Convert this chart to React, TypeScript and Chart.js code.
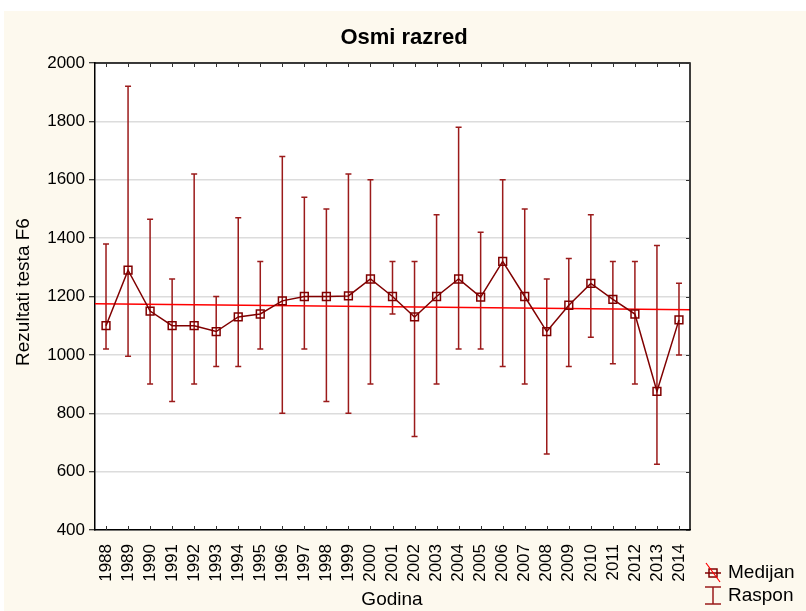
import React, { useEffect, useRef } from 'react';
import { Chart, registerables } from 'chart.js';

Chart.register(...registerables);

const years = [1988, 1989, 1990, 1991, 1992, 1993, 1994, 1995, 1996, 1997, 1998, 1999, 2000, 2001, 2002, 2003, 2004, 2005, 2006, 2007, 2008, 2009, 2010, 2011, 2012, 2013, 2014];
const median = [1100, 1290, 1150, 1100, 1100, 1080, 1130, 1140, 1185, 1200, 1200, 1202, 1260, 1200, 1130, 1200, 1260, 1198, 1320, 1200, 1080, 1170, 1245, 1190, 1140, 875, 1120];
const upper = [1380, 1920, 1465, 1260, 1620, 1200, 1470, 1320, 1680, 1540, 1500, 1620, 1600, 1320, 1320, 1480, 1780, 1420, 1600, 1500, 1260, 1330, 1480, 1320, 1320, 1375, 1245];
const lower = [1020, 995, 900, 840, 900, 960, 960, 1020, 800, 1020, 840, 800, 900, 1140, 720, 900, 1020, 1020, 960, 900, 660, 960, 1060, 970, 900, 625, 1000];
const trendX = [1987.5, 2014.5];
const trendY = [1175, 1155];
const yTicks = [400, 600, 800, 1000, 1200, 1400, 1600, 1800, 2000];

const FONT = '"Liberation Sans", Arial, sans-serif';
const DARK = '#8b0000';

const decorPlugin = {
  id: 'decor',
  beforeDraw(chart: any) {
    const { ctx, width, height, chartArea: a } = chart;
    ctx.save();
    ctx.fillStyle = '#ffffff';
    ctx.fillRect(0, 0, width, height);
    ctx.fillStyle = '#fdf9ee';
    ctx.fillRect(4, 11, width - 4, height - 11);
    ctx.fillStyle = '#ffffff';
    ctx.fillRect(a.left, a.top, a.right - a.left, a.bottom - a.top);
    ctx.restore();
  },
  beforeDatasetsDraw(chart: any) {
    const { ctx } = chart;
    const xs = chart.scales.x;
    const ys = chart.scales.y;
    ctx.save();
    ctx.strokeStyle = '#9b1b1b';
    ctx.lineWidth = 1.5;
    years.forEach((yr, i) => {
      const x = xs.getPixelForValue(yr);
      const yt = ys.getPixelForValue(upper[i]);
      const yb = ys.getPixelForValue(lower[i]);
      ctx.beginPath();
      ctx.moveTo(x, yt);
      ctx.lineTo(x, yb);
      ctx.moveTo(x - 3, yt);
      ctx.lineTo(x + 3, yt);
      ctx.moveTo(x - 3, yb);
      ctx.lineTo(x + 3, yb);
      ctx.stroke();
    });
    ctx.restore();
  },
  afterDraw(chart: any) {
    const { ctx, chartArea: a } = chart;
    const xs = chart.scales.x;
    const ys = chart.scales.y;
    ctx.save();
    // frame
    ctx.strokeStyle = '#000';
    ctx.lineWidth = 1.5;
    ctx.beginPath();
    ctx.moveTo(a.left, a.top);
    ctx.lineTo(a.right, a.top);
    ctx.lineTo(a.right, a.bottom);
    ctx.stroke();
    ctx.lineWidth = 1;
    ctx.strokeStyle = '#333';
    ctx.beginPath();
    years.forEach((yr) => {
      const x = Math.round(xs.getPixelForValue(yr)) + 0.5;
      ctx.moveTo(x, a.top);
      ctx.lineTo(x, a.top + 4);
      ctx.moveTo(x, a.bottom);
      ctx.lineTo(x, a.bottom - 4);
    });
    yTicks.forEach((v) => {
      const y = Math.round(ys.getPixelForValue(v)) + 0.5;
      ctx.moveTo(a.right, y);
      ctx.lineTo(a.right - 4, y);
    });
    ctx.stroke();

    // titles
    ctx.fillStyle = '#000';
    ctx.textAlign = 'center';
    ctx.textBaseline = 'middle';
    ctx.font = `bold 22px ${FONT}`;
    ctx.fillText('Osmi razred', 404, 38);
    ctx.font = `19px ${FONT}`;
    ctx.fillText('Godina', 392, 600);
    ctx.save();
    ctx.translate(24, 292);
    ctx.rotate(-Math.PI / 2);
    ctx.fillText('Rezultati testa F6', 0, 0);
    ctx.restore();

    // legend
    const lx = 713;
    const ly1 = 573;
    const ly2 = 596;
    ctx.strokeStyle = '#800000';
    ctx.lineWidth = 1.5;
    ctx.beginPath();
    ctx.moveTo(lx - 8, ly1);
    ctx.lineTo(lx + 8, ly1);
    ctx.stroke();
    ctx.strokeRect(lx - 4, ly1 - 4, 8, 8);
    ctx.strokeStyle = '#ff0000';
    ctx.lineWidth = 1.2;
    ctx.beginPath();
    ctx.moveTo(lx - 7, ly1 - 10);
    ctx.lineTo(lx + 7, ly1 + 9);
    ctx.stroke();
    ctx.strokeStyle = '#9b1b1b';
    ctx.lineWidth = 1.5;
    ctx.beginPath();
    ctx.moveTo(lx, ly2 - 9);
    ctx.lineTo(lx, ly2 + 8);
    ctx.moveTo(lx - 8, ly2 - 9);
    ctx.lineTo(lx + 8, ly2 - 9);
    ctx.moveTo(lx - 8, ly2 + 8);
    ctx.lineTo(lx + 8, ly2 + 8);
    ctx.stroke();
    ctx.fillStyle = '#000';
    ctx.textAlign = 'left';
    ctx.font = `19px ${FONT}`;
    ctx.fillText('Medijan', 728, ly1);
    ctx.fillText('Raspon', 728, ly2);
    ctx.restore();
  },
};

export default function App() {
  const ref = useRef<HTMLCanvasElement>(null);
  useEffect(() => {
    const chart = new Chart(ref.current as HTMLCanvasElement, {
      type: 'line',
      data: {
        datasets: [
          {
            label: 'Medijan',
            data: years.map((x, i) => ({ x, y: median[i] })),
            borderColor: '#800000',
            borderWidth: 1.5,
            pointStyle: 'rect',
            pointRadius: 5.5,
            pointBorderColor: '#800000',
            pointBackgroundColor: 'rgba(255,255,255,0)',
            pointBorderWidth: 1.5,
            tension: 0,
          },
          {
            label: 'Trend',
            data: trendX.map((x, i) => ({ x, y: trendY[i] })),
            borderColor: '#ff0000',
            borderWidth: 1.5,
            pointRadius: 0,
          },
        ],
      },
      options: {
        animation: false,
        responsive: false,
        devicePixelRatio: 1,
        layout: { padding: { left: 0, top: 63, right: 116, bottom: 0 } },
        plugins: { legend: { display: false }, title: { display: false }, tooltip: { enabled: false } },
        scales: {
          x: {
            type: 'linear',
            min: 1987.5,
            max: 2014.5,
            afterBuildTicks: (axis: any) => {
              axis.ticks = years.map((v) => ({ value: v }));
            },
            afterFit: (scale: any) => {
              scale.height = 81;
            },
            grid: { display: false },
            border: { display: true, color: '#000', width: 1.5 },
            ticks: {
              autoSkip: false,
              minRotation: 90,
              maxRotation: 90,
              padding: 6,
              color: '#000',
              font: { family: FONT, size: 17 },
              callback: (v: any) => String(v),
            },
          },
          y: {
            type: 'linear',
            min: 400,
            max: 2000,
            afterBuildTicks: (axis: any) => {
              axis.ticks = yTicks.map((v) => ({ value: v }));
            },
            afterFit: (scale: any) => {
              scale.width = 95;
            },
            grid: { color: '#dcdcdc', lineWidth: 1.5, tickColor: '#000', tickLength: 6, tickWidth: 1 },
            border: { display: true, color: '#000', width: 1.5 },
            ticks: {
              padding: 4,
              color: '#000',
              font: { family: FONT, size: 17 },
              callback: (v: any) => String(v),
            },
          },
        },
      },
      plugins: [decorPlugin],
    } as any);
    return () => chart.destroy();
  }, []);
  return (
    <div style={{ position: 'fixed', left: 0, top: 0, width: 806, height: 611, background: '#fff' }}>
      <canvas ref={ref} width={806} height={611} style={{ display: 'block', width: 806, height: 611 }} />
    </div>
  );
}
